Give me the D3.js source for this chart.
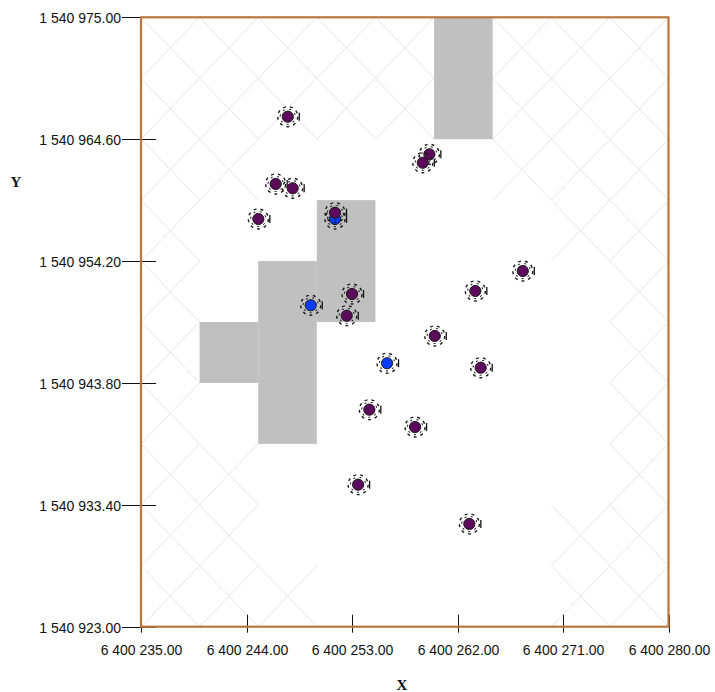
<!DOCTYPE html>
<html>
<head>
<meta charset="utf-8">
<script src="https://cdn.jsdelivr.net/npm/d3@7"></script>
<style>
  html, body { margin: 0; padding: 0; background: #ffffff; }
  svg { display: block; }
  .tick-label { font-family: "Liberation Sans", Arial, sans-serif; font-size: 14px; fill: #111; }
  .axis-title { font-family: "Liberation Serif", "Times New Roman", serif; font-size: 15px; font-weight: bold; fill: #111; }
</style>
</head>
<body>
<svg id="chart" width="715" height="692"></svg>
<script>
// Sample locations (easting / northing) and their class
const xCoords = [6400247.52, 6400246.49, 6400247.94, 6400245.01, 6400251.55, 6400251.55,
                 6400259.60, 6400259.04, 6400267.57, 6400263.52, 6400253.00, 6400249.48,
                 6400252.55, 6400260.06, 6400255.99, 6400263.98, 6400254.48, 6400258.38,
                 6400253.52, 6400263.01];
const yCoords = [1540966.52, 1540960.78, 1540960.41, 1540957.79, 1540958.33, 1540957.79,
                 1540963.31, 1540962.59, 1540953.35, 1540951.65, 1540951.39, 1540950.43,
                 1540949.54, 1540947.81, 1540945.48, 1540945.10, 1540941.52, 1540940.04,
                 1540935.12, 1540931.77];
const pointClass = ["a", "a", "a", "a", "a", "b",
                    "a", "a", "a", "a", "a", "b",
                    "a", "a", "b", "a", "a", "a",
                    "a", "a"];

// Shaded raster cells: [xMin, xMax, yMin, yMax]
const shadedCells = [
  [6400260, 6400265, 1540964.6, 1540975.0],
  [6400250, 6400255, 1540949.0, 1540959.4],
  [6400245, 6400250, 1540938.6, 1540954.2],
  [6400240, 6400245, 1540943.8, 1540949.0]
];

// Background grid cells carrying the light diagonal texture: [column, row]
const texturedCells = [
  [0,0],[1,0],[2,0],[3,0],[4,0],[6,0],[7,0],[8,0],
  [0,1],[1,1],[2,1],[3,1],[4,1],[6,1],[7,1],[8,1],
  [0,2],[1,2],[6,2],[7,2],[8,2],
  [0,3],[7,3],[8,3],
  [0,4],[8,4],
  [0,5],[8,5],
  [0,6],[8,6],
  [0,7],[1,7],[8,7],
  [0,8],[1,8],[7,8],[8,8],
  [0,9],[1,9],[2,9],[7,9],[8,9]
];

// Axis ticks
const xTicks = [6400235, 6400244, 6400253, 6400262, 6400271, 6400280];
const yTicks = [1540923.0, 1540933.4, 1540943.8, 1540954.2, 1540964.6, 1540975.0];

const cellW = 5, cellH = 5.2;
const xMin = 6400235, xMax = 6400280, yMin = 1540923, yMax = 1540975;

const svg = d3.select("#chart");
const plotL = 141, plotR = 668.5, plotT = 17.3, plotB = 626.7;

const x = d3.scaleLinear().domain([xMin, xMax]).range([plotL, plotR]);
const y = d3.scaleLinear().domain([yMin, yMax]).range([plotB, plotT]);

const loc = d3.formatLocale({ decimal: ".", thousands: " ", grouping: [3], currency: ["", ""] });
const fmt = loc.format(",.2f");

// Diagonal texture
const tex = svg.append("g").attr("stroke", "#e6e6e6").attr("stroke-width", 1).attr("fill", "none");
texturedCells.forEach(([c, r]) => {
  const x0 = x(xMin + c * cellW), x1 = x(xMin + (c + 1) * cellW);
  const y0 = y(yMax - r * cellH), y1 = y(yMax - (r + 1) * cellH);
  tex.append("line").attr("x1", x0).attr("y1", y0).attr("x2", x1).attr("y2", y1);
  tex.append("line").attr("x1", x1).attr("y1", y0).attr("x2", x0).attr("y2", y1);
});

// Shaded cells
svg.append("g").selectAll("rect").data(shadedCells).join("rect")
  .attr("x", d => x(d[0]))
  .attr("y", d => y(d[3]))
  .attr("width", d => x(d[1]) - x(d[0]))
  .attr("height", d => y(d[2]) - y(d[3]))
  .attr("fill", "#c0c0c0");

// Y axis ticks and labels
const yAxis = svg.append("g");
yTicks.forEach(v => {
  const py = Math.round(y(v)) + 0.5;
  yAxis.append("line").attr("x1", plotL - 19).attr("x2", plotL + 15)
    .attr("y1", py).attr("y2", py).attr("stroke", "#111").attr("stroke-width", 1);
  yAxis.append("text").attr("class", "tick-label")
    .attr("x", plotL - 20).attr("y", py + 5).attr("text-anchor", "end")
    .text(fmt(v));
});

// X axis ticks and labels
const xAxis = svg.append("g");
xTicks.forEach(v => {
  const px = Math.round(x(v)) + 0.5;
  xAxis.append("line").attr("x1", px).attr("x2", px)
    .attr("y1", plotB - 12).attr("y2", plotB + 6).attr("stroke", "#111").attr("stroke-width", 1);
  xAxis.append("text").attr("class", "tick-label")
    .attr("x", px).attr("y", plotB + 28).attr("text-anchor", "middle")
    .text(fmt(v));
});

// Frame drawn over the tick stubs
svg.append("rect")
  .attr("x", plotL).attr("y", plotT)
  .attr("width", plotR - plotL).attr("height", plotB - plotT)
  .attr("fill", "none").attr("stroke", "#b8773f").attr("stroke-width", 2.2);

// Axis titles
svg.append("text").attr("class", "axis-title").attr("x", 16).attr("y", 187)
  .attr("text-anchor", "middle").text("Y");
svg.append("text").attr("class", "axis-title").attr("x", 402).attr("y", 690)
  .attr("text-anchor", "middle").text("X");

// Sample points: blue ones first so purple ones overlay them
const pts = d3.range(xCoords.length).map(i => ({ x: xCoords[i], y: yCoords[i], k: pointClass[i] }));
pts.sort((a, b) => (a.k === "b" ? -1 : 1) - (b.k === "b" ? -1 : 1));

const fillFor = { a: "#5c0a5c", b: "#0a3cff" };
const g = svg.append("g");
const marker = g.selectAll("g.pt").data(pts).join("g")
  .attr("class", "pt")
  .attr("transform", d => `translate(${x(d.x)},${y(d.y)})`);

// dashed halo of short strokes around each sample
marker.append("circle").attr("r", 10).attr("fill", "none")
  .attr("stroke", "#1a1a1a").attr("stroke-width", 1.4).attr("stroke-dasharray", "3 4");
marker.append("circle").attr("r", 7.6).attr("fill", "none")
  .attr("stroke", "#2a2a2a").attr("stroke-width", 1.1).attr("stroke-dasharray", "2 4.5")
  .attr("stroke-dashoffset", 2);
marker.append("line").attr("x1", 11.5).attr("x2", 11.5).attr("y1", -4).attr("y2", 4)
  .attr("stroke", "#111").attr("stroke-width", 1.3);
marker.append("circle").attr("r", 5.6)
  .attr("fill", d => fillFor[d.k]).attr("stroke", "#1a1a1a").attr("stroke-width", 1);
</script>
</body>
</html>
